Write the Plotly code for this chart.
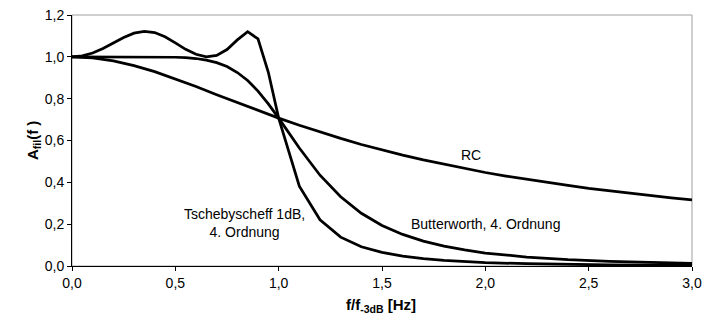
import plotly.graph_objects as go

# --- data ---
x_fine = [0.0, 0.05, 0.1, 0.15, 0.2, 0.25, 0.3, 0.35, 0.4, 0.45, 0.5, 0.55, 0.6, 0.65,
          0.7, 0.75, 0.8, 0.85, 0.9, 0.95, 1.0, 1.1, 1.2, 1.3, 1.4, 1.5, 1.6, 1.7, 1.8,
          1.9, 2.0, 2.2, 2.4, 2.6, 2.8, 3.0]
tscheb = [1.0, 1.005, 1.018, 1.040, 1.066, 1.092, 1.113, 1.122, 1.116, 1.096, 1.067, 1.036,
          1.012, 1.000, 1.007, 1.035, 1.081, 1.120, 1.086, 0.926, 0.707, 0.382, 0.221, 0.138,
          0.092, 0.065, 0.047, 0.035, 0.027, 0.021, 0.016, 0.011, 0.007, 0.005, 0.004, 0.003]
butter = [1.0, 1.0, 1.0, 1.0, 1.0, 1.0, 1.0, 1.0, 0.9997, 0.999, 0.998, 0.996, 0.992, 0.984,
          0.972, 0.954, 0.925, 0.887, 0.836, 0.775, 0.707, 0.564, 0.434, 0.331, 0.252, 0.194,
          0.151, 0.119, 0.095, 0.077, 0.062, 0.043, 0.030, 0.022, 0.016, 0.012]
x_rc = [0.0, 0.1, 0.2, 0.3, 0.4, 0.5, 0.6, 0.7, 0.8, 0.9, 1.0, 1.1, 1.2, 1.3, 1.4, 1.5,
        1.6, 1.7, 1.8, 1.9, 2.0, 2.1, 2.2, 2.3, 2.4, 2.5, 2.6, 2.7, 2.8, 2.9, 3.0]
rc = [1.0, 0.995, 0.981, 0.958, 0.929, 0.894, 0.858, 0.819, 0.781, 0.743, 0.707, 0.673,
      0.640, 0.610, 0.581, 0.555, 0.530, 0.507, 0.486, 0.466, 0.447, 0.430, 0.414, 0.399,
      0.385, 0.371, 0.359, 0.347, 0.336, 0.326, 0.316]

x_ticks = [0, 0.5, 1.0, 1.5, 2.0, 2.5, 3.0]
y_ticks = [0, 0.2, 0.4, 0.6, 0.8, 1.0, 1.2]

labels = [
    ("RC", 1.933, 0.531),
    ("Butterworth, 4. Ordnung", 2.003, 0.201),
    ("Tschebyscheff 1dB,<br>4. Ordnung", 0.836, 0.206),
]

FONT = "Liberation Sans, Arial, sans-serif"
line = dict(color="black", width=2.75)

fig = go.Figure()
fig.add_trace(go.Scatter(x=x_rc, y=rc, mode="lines", line=line, name="RC", hoverinfo="skip"))
fig.add_trace(go.Scatter(x=x_fine, y=butter, mode="lines", line=line, name="Butterworth", hoverinfo="skip"))
fig.add_trace(go.Scatter(x=x_fine, y=tscheb, mode="lines", line=line, name="Tschebyscheff", hoverinfo="skip"))

for text, lx, ly in labels:
    fig.add_annotation(x=lx, y=ly, text=text, showarrow=False, xref="x", yref="y",
                       font=dict(family=FONT, size=14, color="black"), align="center")

L, R, T, B = 72, 10, 15, 62
W, H = 702, 328
fig.update_layout(
    width=W, height=H,
    margin=dict(l=L, r=R, t=T, b=B, pad=0, autoexpand=False),
    paper_bgcolor="white", plot_bgcolor="white",
    showlegend=False,
    separators=",.",
    font=dict(family=FONT, size=14, color="black"),
    xaxis=dict(range=[0, 3], tickmode="array", tickvals=x_ticks, automargin=False,
               tickformat=".1f", showgrid=False, zeroline=False, showline=True,
               linecolor="black", linewidth=1, ticks="outside", ticklen=4,
               tickcolor="black", tickfont=dict(size=14), ticklabeloverflow="allow"),
    yaxis=dict(range=[0, 1.2], tickmode="array", tickvals=y_ticks, automargin=False,
               tickformat=".1f", showgrid=False, zeroline=False, showline=True,
               linecolor="black", linewidth=1, ticks="outside", ticklen=4,
               tickcolor="black", tickfont=dict(size=14), ticklabeloverflow="allow"),
)

# gray plot-area border (top/right)
fig.add_shape(type="rect", xref="paper", yref="paper", x0=0, y0=0, x1=1, y1=1,
              line=dict(color="#a0a0a0", width=1), layer="below")

# axis titles as annotations positioned in pixels
pw = W - L - R
ph = H - T - B
fig.add_annotation(x=(381 - L) / pw, y=-(317 - (H - B)) / ph, xref="paper", yref="paper",
                   text="<b>f/f<sub>-3dB</sub> [Hz]</b>", showarrow=False,
                   font=dict(family=FONT, size=15, color="black"))
fig.add_annotation(x=-(L - 22) / pw, y=0.5, xref="paper", yref="paper",
                   text="<b>A<sub>fil</sub>(f )</b>", showarrow=False, textangle=-90,
                   font=dict(family=FONT, size=15, color="black"))

fig.write_html("out.html", config={"displayModeBar": False, "staticPlot": True},
               post_script="document.body.style.margin='0';")
